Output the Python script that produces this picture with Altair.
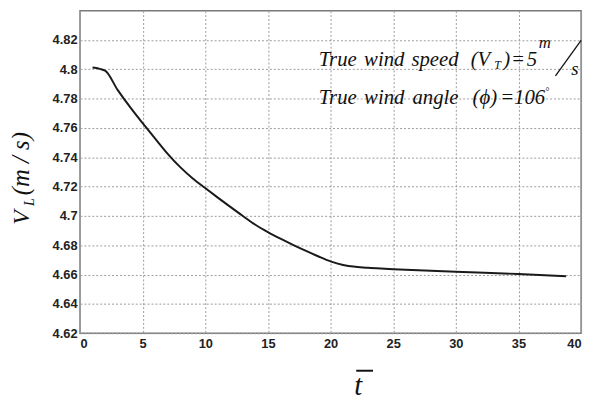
import altair as alt
import pandas as pd

# data
t_vals = [1.0, 2.0, 3, 4, 5, 6, 7, 8, 9, 10, 11, 12, 13, 14, 15, 16, 17, 18, 19,
          20, 21, 22, 23, 24, 25, 30, 35, 38.8]
v_vals = [4.8013, 4.7991, 4.7860, 4.7742, 4.7633, 4.7528, 4.7424, 4.7333, 4.7256,
          4.7190, 4.7125, 4.7062, 4.7000, 4.6940, 4.6890, 4.6845, 4.6803, 4.6763,
          4.6725, 4.6690, 4.6666, 4.6653, 4.6646, 4.6641, 4.6637, 4.6619, 4.6604,
          4.6589]
x_ticks = [0, 5, 10, 15, 20, 25, 30, 35, 40]
y_ticks = [4.62, 4.64, 4.66, 4.68, 4.70, 4.72, 4.74, 4.76, 4.78, 4.80, 4.82]

df = pd.DataFrame({"t": t_vals, "v": v_vals})

W, H = 508, 327
SERIF = "Liberation Serif"

line = alt.Chart(df).mark_line(color="#1a1a1a", strokeWidth=2, interpolate="monotone").encode(
    x=alt.X("t:Q", scale=alt.Scale(domain=[0, 40], nice=False),
            axis=alt.Axis(values=x_ticks, title=None)),
    y=alt.Y("v:Q", scale=alt.Scale(domain=[4.62, 4.84], nice=False, zero=False),
            axis=alt.Axis(values=y_ticks, format=".2~f", title=None)),
)

one = pd.DataFrame({"k": [0]})


def txt(s, x, y, size=21, angle=0, font=SERIF, style="italic", weight="normal"):
    return alt.Chart(one).mark_text(
        text=s, align="left", baseline="alphabetic", font=font, fontSize=size,
        fontStyle=style, fontWeight=weight, angle=angle, color="#111", clip=False
    ).encode(x=alt.value(x), y=alt.value(y))


OX, OY = 81, 8  # plot origin in page pixels

parts = [
    # line 1
    txt("True", 323 - OX, 64 - OY),
    txt("wind", 369 - OX, 64 - OY),
    txt("speed", 417 - OX, 64 - OY),
    txt("(V", 477 - OX, 64 - OY),
    txt("T", 501 - OX, 67 - OY, size=12),
    txt(")", 510 - OX, 64 - OY),
    txt("=", 518 - OX, 64 - OY),
    txt("5", 534 - OX, 64 - OY),
    txt("m", 546 - OX, 46 - OY, size=17),
    txt("s", 579 - OX, 73 - OY, size=19),
    # line 2
    txt("True", 323 - OX, 103 - OY),
    txt("wind", 369 - OX, 103 - OY),
    txt("angle", 418 - OX, 103 - OY),
    txt("(ϕ)", 479 - OX, 103 - OY),
    txt("=", 507 - OX, 103 - OY),
    txt("106", 521 - OX, 103 - OY),
    txt("°", 553 - OX, 93 - OY, size=10, style="normal"),
    # y title (rotated)
    txt("V", 29 - OX, 225 - OY, size=24, angle=270),
    txt("L", 34 - OX, 206 - OY, size=14, angle=270),
    txt("(m\u00a0/\u00a0s)", 29 - OX, 195 - OY, size=25, angle=270),
    # x title
    txt("t", 359 - OX, 398 - OY, size=29),
]

slash = alt.Chart(one).mark_rule(color="#111", strokeWidth=1.3, clip=False).encode(
    x=alt.value(563 - OX), x2=alt.value(589 - OX),
    y=alt.value(74 - OY), y2=alt.value(38 - OY))
overbar = alt.Chart(one).mark_rule(color="#111", strokeWidth=2, clip=False).encode(
    x=alt.value(361 - OX), x2=alt.value(378 - OX),
    y=alt.value(373 - OY))

chart = alt.layer(line, slash, overbar, *parts).properties(
    width=W, height=H,
    autosize=alt.AutoSizeParams(type="none"),
    padding={"left": OX - 8, "top": OY - 8, "right": 8, "bottom": 68},
).configure_view(
    stroke="#7a7a7a", strokeWidth=1.5
).configure_axis(
    domain=False, ticks=False, grid=True, gridColor="#9a9a9a", gridDash=[2, 2],
    gridWidth=1, labelFont="Liberation Sans", labelFontWeight="bold",
    labelFontSize=13, labelColor="#222", labelPadding=4,
).configure_axisY(labelPadding=3)

chart.save("out.html", embed_options={"renderer": "svg", "actions": False})
